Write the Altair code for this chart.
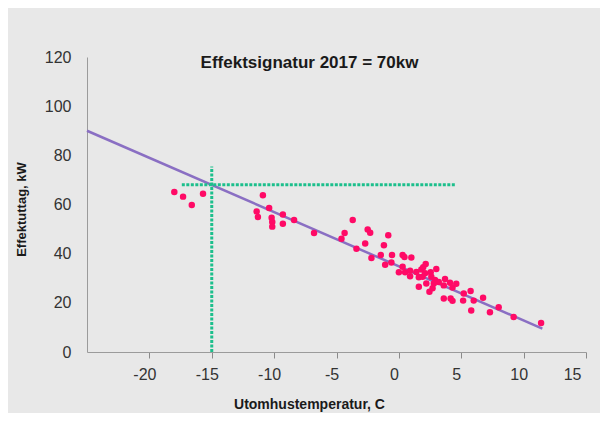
import altair as alt
import pandas as pd

# Scatter data: outdoor temperature (C) vs power (kW)
temp = [-18.0, -17.3, -16.6, -15.7,
        -10.9, -10.4, -11.4, -11.3, -10.2, -9.3, -10.15, -10.15, -9.3, -8.4,
        -6.8, -4.6, -4.35, -3.7, -3.4, -2.7, -2.5, -2.3, -2.2, -1.45,
        -0.85, -1.2, -0.55, -1.1, -0.6, 0.3, 0.45, 1.0, 0.3, 0.0,
        0.5, 0.9, 0.9, 1.4, 1.8, 1.95, 2.15, 1.6, 1.9, 2.1,
        1.6, 2.2, 2.55, 2.6, 3.0, 2.9, 3.2, 2.45, 2.7, 3.7,
        3.6, 4.1, 4.3, 4.6, 3.6, 4.15, 4.3, 5.2, 5.75, 5.15,
        6.0, 5.8, 6.75, 7.3, 8.0, 9.2, 11.4, 2.8]
power = [65.1, 63.2, 59.8, 64.4,
         63.8, 58.6, 57.2, 54.9, 54.6, 55.9, 52.9, 51.0, 52.2, 53.7,
         48.4, 46.1, 48.4, 53.7, 42.0, 44.1, 49.8, 48.5, 38.2, 39.5,
         47.5, 43.4, 39.5, 35.5, 36.4, 39.5, 38.6, 38.4, 34.7, 32.4,
         32.4, 33.1, 30.8, 32.5, 33.6, 34.5, 35.8, 30.4, 30.6, 32.0,
         26.5, 27.9, 32.4, 30.6, 33.8, 29.3, 28.5, 24.5, 25.9, 29.7,
         27.1, 28.2, 26.2, 27.8, 21.8, 21.8, 20.8, 23.8, 24.8, 20.9,
         20.9, 16.9, 22.1, 16.2, 18.2, 14.2, 11.8, 27.9]

# Regression line endpoints
line_x = [-25.0, 11.5]
line_y = [90.0, 9.5]

# Dotted guide lines
vline_x = [-15.0]
vline_y0 = [0.0]
vline_y1 = [75.5]
hline_y = [68.0]
hline_x0 = [-17.4]
hline_x1 = [4.6]

x_ticks = [-20, -15, -10, -5, 0, 5, 10, 15]
y_ticks = [0, 20, 40, 60, 80, 100, 120]

pts = pd.DataFrame({"t": temp, "p": power})
ln = pd.DataFrame({"t": line_x, "p": line_y})
vl = pd.DataFrame({"t": vline_x, "p": vline_y0, "p2": vline_y1})
hl = pd.DataFrame({"t": hline_x0, "t2": hline_x1, "p": hline_y})

xs = alt.Scale(domain=[-25, 15], nice=False, zero=False)
ys = alt.Scale(domain=[0, 120], nice=False)

x_axis = alt.Axis(values=x_ticks, title="Utomhustemperatur, C", labelExpr="datum.value + ''",
                  grid=False, domainColor="#9b9b9b", tickColor="#8a8a8a", tickSize=6,
                  labelFontSize=16, labelColor="#333333", labelPadding=8, labelOffset=-5,
                  titleFontSize=14, titleFontWeight="bold", titleColor="#1a1a1a",
                  titleX=222, titleY=52, titleBaseline="middle", titleAlign="center")
y_axis = alt.Axis(values=y_ticks, title="Effektuttag, kW", grid=False, ticks=False,
                  domainColor="#9b9b9b", labelFontSize=16, labelColor="#333333", labelPadding=16,
                  titleFontSize=13, titleFontWeight="bold", titleColor="#1a1a1a",
                  titleX=-66, titleY=152, titleBaseline="middle", titleAlign="center")

X = alt.X("t:Q", scale=xs, axis=x_axis)
Y = alt.Y("p:Q", scale=ys, axis=y_axis)

line = alt.Chart(ln).mark_line(color="#8a6fc3", strokeWidth=2.5).encode(x=X, y=Y)
points = alt.Chart(pts).mark_circle(color="#ff0a66", opacity=1, size=42).encode(x=X, y=Y)
vrule = alt.Chart(vl).mark_rule(color="#1cbf8c", strokeWidth=3, strokeDash=[3, 1.5]).encode(
    x=X, y=Y, y2="p2:Q")
hrule = alt.Chart(hl).mark_rule(color="#1cbf8c", strokeWidth=3, strokeDash=[3, 1.5]).encode(
    x=X, x2="t2:Q", y=Y)

chart = alt.layer(line, points, vrule, hrule).properties(
    width=499, height=295,
    autosize=alt.AutoSizeParams(type="none"),
    padding={"left": 79, "top": 49, "right": 14, "bottom": 61},
    background="#e8e8e8",
    title=alt.TitleParams("Effektsignatur 2017 = 70kw", anchor="middle", dx=-27, offset=-23,
                          fontSize=17, fontWeight="bold", color="#1a1a1a"),
).configure(font="Liberation Sans").configure_view(stroke=None)

chart.save("out.html", embed_options={"renderer": "svg", "actions": False})
